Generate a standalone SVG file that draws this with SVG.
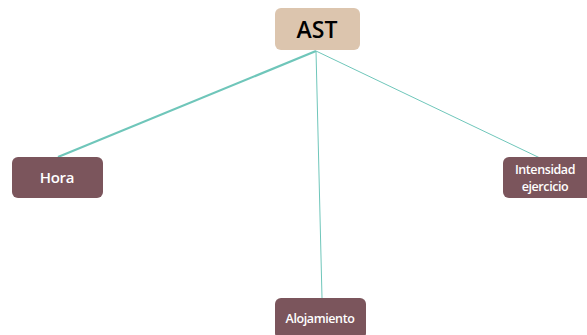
<svg xmlns="http://www.w3.org/2000/svg" width="587" height="335" viewBox="0 0 587 335">
<style>
.n{fill:#7b555c}
.t{font-family:"Open Sans","DejaVu Sans",sans-serif;font-weight:600;fill:#ffffff;text-anchor:middle}
.c{stroke:#6fc6ba;fill:none}
</style>
<rect width="587" height="335" fill="#ffffff"/>
<g id="connectors">
<line class="c" x1="316" y1="51" x2="58" y2="157" stroke-width="2.2"/>
<line class="c" x1="316" y1="51" x2="322" y2="298" stroke-width="1"/>
<line class="c" x1="316" y1="51" x2="540" y2="158" stroke-width="1"/>
</g>
<g id="ast">
<rect x="275" y="8" width="85" height="42" rx="6" fill="#dcc5ae"/>
<text x="317" y="38" font-family="Open Sans, DejaVu Sans, sans-serif" font-weight="600" font-size="23" fill="#000000" text-anchor="middle">AST</text>
</g>
<g id="hora">
<rect class="n" x="12" y="157" width="91" height="41" rx="6"/>
<text class="t" x="57" y="183" font-size="15" letter-spacing="-0.3">Hora</text>
</g>
<g id="intensidad">
<rect class="n" x="503" y="157" width="90" height="41" rx="6"/>
<text class="t" font-size="12.5" letter-spacing="-0.4"><tspan x="545" y="174">Intensidad</tspan><tspan x="545" y="191">ejercicio</tspan></text>
</g>
<g id="alojamiento">
<rect class="n" x="275" y="298" width="91" height="41" rx="6"/>
<text class="t" x="320" y="323" font-size="12.5" letter-spacing="-0.4">Alojamiento</text>
</g>
</svg>
